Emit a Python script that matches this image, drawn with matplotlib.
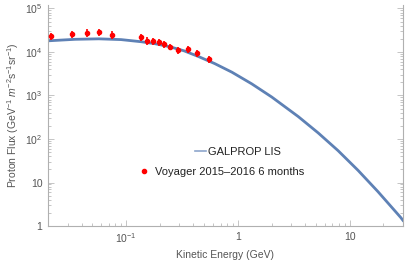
import numpy as np
import matplotlib
matplotlib.use('Agg')
import matplotlib.pyplot as plt
from matplotlib.ticker import FixedLocator, FixedFormatter, LogLocator, NullFormatter
from matplotlib.lines import Line2D

plt.rcParams['font.family'] = ['Liberation Sans', 'DejaVu Sans']
plt.rcParams['mathtext.fontset'] = 'custom'
plt.rcParams['mathtext.rm'] = 'Liberation Sans'
plt.rcParams['mathtext.it'] = 'Liberation Sans:italic'

# GALPROP LIS curve
lis_energy = [0.02, 0.035, 0.057, 0.09, 0.135, 0.18, 0.245, 0.33, 0.446, 0.62,
              0.885, 1.33, 2.01, 3.47, 5.23, 7.88, 11.9, 17.9, 28.8, 30.0]
lis_flux = [1.8e4, 1.95e4, 2.0e4, 1.92e4, 1.72e4, 1.55e4, 1.32e4, 1.06e4, 7.8e3, 5.4e3,
            3.42e3, 1.85e3, 920, 327, 138, 54, 19, 6.2, 1.55, 1.35]

# Voyager 2015-2016 data points
voy_energy = [0.0212, 0.0328, 0.045, 0.0575, 0.0746, 0.135, 0.155, 0.175, 0.197,
              0.218, 0.245, 0.292, 0.356, 0.431, 0.548]
voy_flux = [23300, 25900, 27800, 28400, 25000, 21800, 18200, 17900, 16700,
            15300, 13200, 11100, 11500, 9330, 6800]
voy_err = [4400, 4900, 5300, 5400, 4700, 4100, 3400, 3300, 3100,
           2800, 2400, 2000, 2100, 1700, 1200]

fig = plt.figure(figsize=(4.07, 2.61), dpi=100)
ax = fig.add_axes([0.118, 0.134, 0.872, 0.847])

line_col = '#5e81b5'
ax.plot(lis_energy, lis_flux, color=line_col, lw=2.0, zorder=2)
ax.errorbar(voy_energy, voy_flux, yerr=voy_err, fmt='o', color='#ff0000',
            ms=3.0, elinewidth=1.2, capsize=0, zorder=3)

ax.set_xscale('log')
ax.set_yscale('log')
ax.set_xlim(0.02, 30)
ax.set_ylim(1, 1.2e5)

gray = '#555555'
ax.xaxis.set_major_locator(FixedLocator([0.1, 1, 10]))
ax.xaxis.set_major_formatter(FixedFormatter(['$10^{-1}$', '1', '10']))
ax.yaxis.set_major_locator(FixedLocator([1, 10, 100, 1e3, 1e4, 1e5]))
ax.yaxis.set_major_formatter(FixedFormatter(['1', '10', '$10^2$', '$10^3$', '$10^4$', '$10^5$']))
ax.xaxis.set_minor_locator(LogLocator(base=10, subs=np.arange(2, 10)))
ax.yaxis.set_minor_locator(LogLocator(base=10, subs=np.arange(2, 10)))
ax.xaxis.set_minor_formatter(NullFormatter())
ax.yaxis.set_minor_formatter(NullFormatter())

ax.tick_params(which='both', direction='in', color='#bbbbbb', labelcolor=gray,
               labelsize=7.5, right=True, top=False, width=0.6)
ax.tick_params(which='major', length=4, pad=4)
ax.tick_params(which='minor', length=2)

for side in ['left', 'bottom', 'right']:
    ax.spines[side].set_color('#b0b0b0')
    ax.spines[side].set_linewidth(0.8)
ax.spines['top'].set_visible(False)

ax.set_xlabel('Kinetic Energy (GeV)', color=gray, fontsize=7.5, labelpad=3)
ax.set_ylabel('Proton Flux (GeV$^{-1}$ $\\mathit{m}^{-2}$s$^{-1}$sr$^{-1}$)',
              color=gray, fontsize=7.5, labelpad=3)

# Legend, two rows laid out as in the original
h1 = Line2D([], [], color='#8da6cc', lw=1.2)
h2 = Line2D([], [], color='#ff0000', marker='o', ms=3.0, ls='none')
leg1 = fig.legend([h1], ['GALPROP LIS'], loc='center left',
                  bbox_to_anchor=(0.479, 0.418), frameon=False, fontsize=8,
                  handlelength=1.0, handletextpad=0.2, borderpad=0, borderaxespad=0)
leg2 = fig.legend([h2], ['Voyager 2015\u20132016 6 months'], loc='center left',
                  bbox_to_anchor=(0.340, 0.341), frameon=False, fontsize=8,
                  handlelength=1.0, handletextpad=0.5, borderpad=0, borderaxespad=0)
for leg in (leg1, leg2):
    for t in leg.get_texts():
        t.set_color('#222222')

fig.savefig('out.png', dpi=100)
